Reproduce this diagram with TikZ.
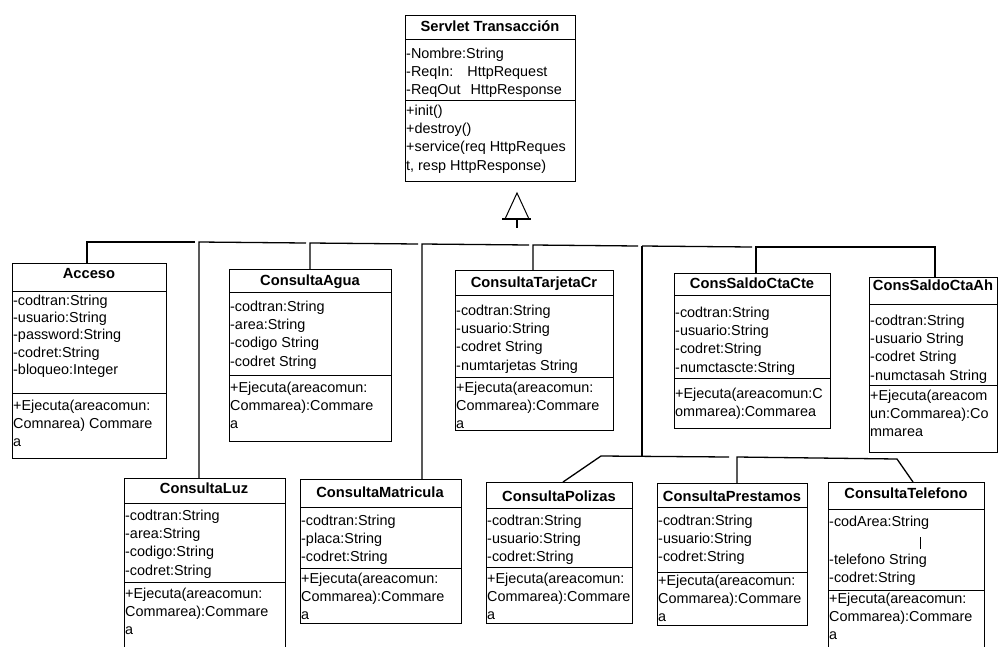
\documentclass[tikz,border=0pt]{standalone}
\usepackage{fontspec}
\setmainfont{Liberation Sans}

% UML class frame: name, left, top, right, bottom, first separator, second separator
\newcommand{\classbox}[7]{%
  \node[classframe, minimum width={(#4-#2)*1pt}, minimum height={(#5-#3)*1pt}] (#1) at (#2,#3) {};
  \draw[sepline] (#2,#6) -- (#4,#6);
  \draw[sepline] (#2,#7) -- (#4,#7);
}
% member list: name, left, baseline of first line, lines
\newcommand{\memberlist}[4]{%
  \node[members] (#1) at (#2,#3-12.81) {\strut#4};
}

\begin{document}
\begin{tikzpicture}[x=1pt,y=-1pt,
  classframe/.style={draw=black, line width=0.9pt, rectangle, inner sep=0pt, outer sep=0pt, anchor=north west},
  sepline/.style={draw=black, line width=0.9pt},
  classtitle/.style={anchor=base, inner sep=0pt, font=\fontsize{14.7}{18.3}\selectfont\bfseries},
  members/.style={anchor=north west, inner sep=0pt, align=left, font=\fontsize{14.4}{18.3}\selectfont},
  link/.style={draw=black, line width=1.3pt},
]
\useasboundingbox (0,0) rectangle (998,646);
\clip (0,0) rectangle (998,646);

% ---------- base class ----------
\classbox{servlet}{405}{15}{575}{181}{39}{100}
\node[classtitle] (servlet-name) at (490,31.5) {Servlet Transacción};
\memberlist{servlet-attr}{406}{58}{-Nombre:String\\-ReqIn:\hspace{14pt}HttpRequest\\-ReqOut\hspace{10pt}HttpResponse}
\memberlist{servlet-ops}{406}{115}{+init()\\+destroy()\\+service(req HttpReques\\t, resp HttpResponse)}

% ---------- upper row ----------
\classbox{acceso}{12}{263}{166}{458}{291}{393}
\node[classtitle] (acceso-name) at (89,278.5) {Acceso};
\node[members, font=\fontsize{14.4}{17.4}\selectfont] (acceso-attr) at (13,305-12.2)
  {\strut-codtran:String\\-usuario:String\\-password:String\\-codret:String\\-bloqueo:Integer};
\memberlist{acceso-ops}{13}{410}{+Ejecuta(areacomun:\\Comnarea) Commare\\a}

\classbox{agua}{229}{269}{391}{441}{292}{375}
\node[classtitle] (agua-name) at (310,285.5) {ConsultaAgua};
\memberlist{agua-attr}{230}{311}{-codtran:String\\-area:String\\-codigo String\\-codret String}
\memberlist{agua-ops}{230}{392}{+Ejecuta(areacomun:\\Commarea):Commare\\a}

\classbox{tarjeta}{455}{270}{613}{430}{295}{377}
\node[classtitle] (tarjeta-name) at (534,287.5) {ConsultaTarjetaCr};
\memberlist{tarjeta-attr}{456}{315}{-codtran:String\\-usuario:String\\-codret String\\-numtarjetas String}
\memberlist{tarjeta-ops}{456}{392}{+Ejecuta(areacomun:\\Commarea):Commare\\a}

\classbox{ctacte}{674}{273}{830}{428}{295}{378}
\node[classtitle] (ctacte-name) at (752,288.5) {ConsSaldoCtaCte};
\memberlist{ctacte-attr}{675}{317}{-codtran:String\\-usuario:String\\-codret:String\\-numctascte:String}
\memberlist{ctacte-ops}{675}{398}{+Ejecuta(areacomun:C\\ommarea):Commarea}

\classbox{ctaah}{869}{277}{997}{452}{304}{385}
\node[classtitle] (ctaah-name) at (933,290.5) {ConsSaldoCtaAh};
\memberlist{ctaah-attr}{870}{325}{-codtran:String\\-usuario String\\-codret String\\-numctasah String}
\memberlist{ctaah-ops}{870}{400}{+Ejecuta(areacom\\un:Commarea):Co\\mmarea}

% ---------- lower row ----------
\classbox{luz}{124}{478}{285}{660}{503}{582}
\node[classtitle] (luz-name) at (204,493.5) {ConsultaLuz};
\memberlist{luz-attr}{125}{520}{-codtran:String\\-area:String\\-codigo:String\\-codret:String}
\memberlist{luz-ops}{125}{598}{+Ejecuta(areacomun:\\Commarea):Commare\\a}

\classbox{matricula}{300}{479}{461}{623}{507}{568}
\node[classtitle] (matricula-name) at (380,497.5) {ConsultaMatricula};
\memberlist{matricula-attr}{301}{525}{-codtran:String\\-placa:String\\-codret:String}
\memberlist{matricula-ops}{301}{583}{+Ejecuta(areacomun:\\Commarea):Commare\\a}

\classbox{polizas}{486}{482}{632}{623}{508}{567}
\node[classtitle] (polizas-name) at (559,501.5) {ConsultaPolizas};
\memberlist{polizas-attr}{487}{525}{-codtran:String\\-usuario:String\\-codret:String}
\memberlist{polizas-ops}{487}{583}{+Ejecuta(areacomun:\\Commarea):Commare\\a}

\classbox{prestamos}{657}{483}{807}{625}{507}{572}
\node[classtitle] (prestamos-name) at (732,501.5) {ConsultaPrestamos};
\memberlist{prestamos-attr}{658}{525}{-codtran:String\\-usuario:String\\-codret:String}
\memberlist{prestamos-ops}{658}{585}{+Ejecuta(areacomun:\\Commarea):Commare\\a}

\classbox{telefono}{828}{482}{984}{660}{509}{590}
\node[classtitle] (telefono-name) at (906,498.5) {ConsultaTelefono};
\memberlist{telefono-attr-a}{829}{526}{-codArea:String}
\draw[line width=0.6pt] (920,537) -- (920,549);
\memberlist{telefono-attr-b}{829}{564}{-telefono String\\-codret:String}
\memberlist{telefono-ops}{829}{603}{+Ejecuta(areacomun:\\Commarea):Commare\\a}

% ---------- generalization ----------
\coordinate (tri-apex) at (517,193);
\coordinate (tri-base) at (517,219);
\coordinate (tri-stem) at (517,228);
\draw[line width=1pt] (tri-apex) -- (505,219) -- (529,219) -- cycle;
\draw[link] (502,219) -- (531,219);
\draw[link] (tri-base) -- (tri-stem);

% bus joints
\coordinate (j1) at (87,242);
\coordinate (j2) at (199,242);
\coordinate (j3) at (310,243);
\coordinate (j4) at (422,244);
\coordinate (j5) at (533,245);
\coordinate (j6) at (642,246);
\coordinate (j7) at (756,247);
\coordinate (j8) at (935,247);

\draw[link] (j1 |- acceso.north) -- (j1) -- ([xshift=-4pt]j2);
\draw[link] (j2 |- luz.north) -- (j2) -- ([xshift=-4pt]j3);
\draw[link] (j3 |- agua.north) -- (j3) -- ([xshift=-4pt]j4);
\draw[link] (j4 |- matricula.north) -- (j4) -- ([xshift=-4pt]j5);
\draw[link] (j5 |- tarjeta.north) -- (j5) -- ([xshift=-4pt]j6);
\draw[link] (j6) -- ([xshift=-4pt]j7);
\draw[link] (j7 |- ctacte.north) -- (j7) -- (j8) -- (j8 |- ctaah.north);

% lower branch
\coordinate (k0) at (601,456);
\coordinate (k2) at (737,457);
\coordinate (k3) at (897,459);
\draw[link] (j6) -- (j6 |- k0);
\draw[link] ([xshift=4pt]polizas.north) -- (k0) -- ([xshift=-8pt]k2);
\draw[link] (k2 |- prestamos.north) -- (k2) -- (k3) -- ([xshift=7pt]telefono.north);
\end{tikzpicture}
\end{document}
